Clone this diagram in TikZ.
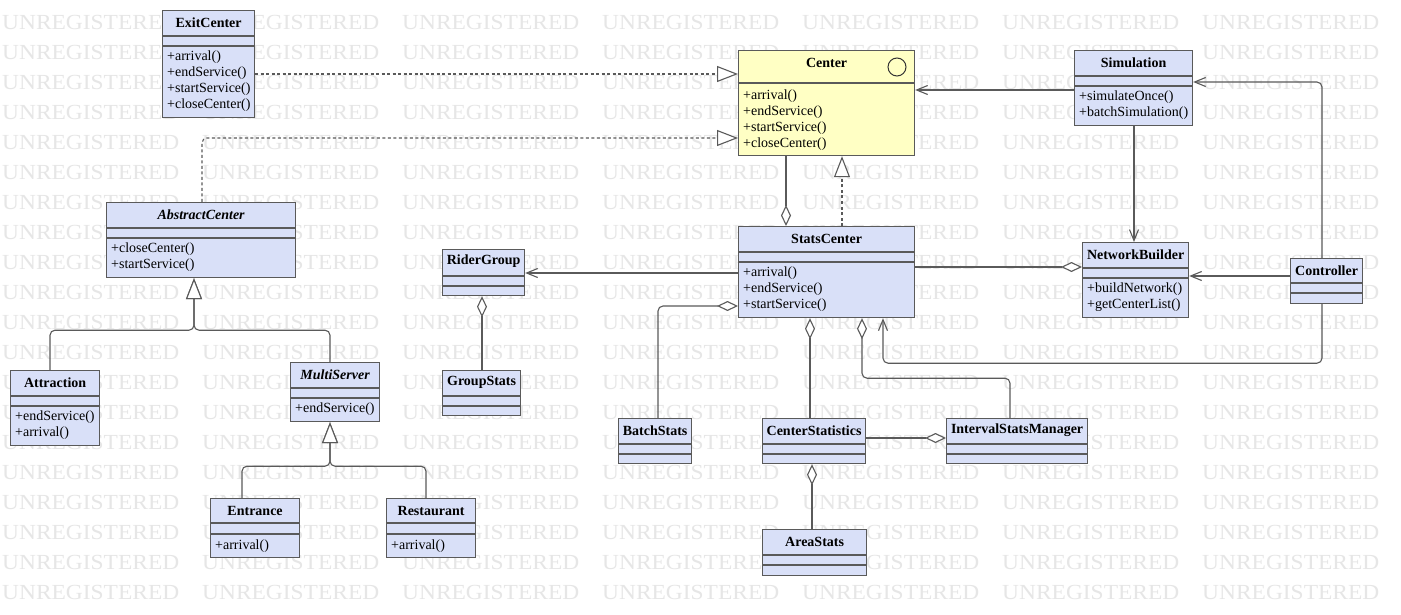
\documentclass[tikz,border=0pt]{standalone}
\usepackage{fontspec}
\setmainfont{Liberation Serif}
\usetikzlibrary{arrows.meta,calc}
\definecolor{boxfill}{RGB}{217,224,248}
\definecolor{ifill}{RGB}{255,255,196}
\definecolor{edge}{RGB}{90,90,90}
\definecolor{wm}{RGB}{230,230,230}
\tikzset{
 cls/.style={draw=edge, line width=1.2pt, fill=boxfill, inner sep=0pt, anchor=north west},
 ttl/.style={font=\fontsize{14}{16}\selectfont\bfseries, inner sep=0pt},
 mth/.style={font=\fontsize{14}{16}\selectfont, inner sep=0pt, anchor=west, text height=9.5pt, text depth=3.5pt},
 sepl/.style={draw=edge, line width=1.2pt},
 conn/.style={draw=edge, line width=1.1pt, rounded corners=5pt},
 dep/.style={conn, dash pattern=on 3pt off 2.5pt},
 nav/.style={-{Straight Barb[length=11pt,width=9pt]}},
 gen/.style={-{Triangle[length=21pt,width=16pt,fill=white]}},
 agg/.style={{Diamond[length=21pt,width=10pt,fill=white]}-},
 wmk/.style={text=wm, font=\fontsize{21.5}{22}\selectfont, inner sep=0pt, anchor=base west},
}
\newcommand{\ucls}[7][]{%
 \node[cls,#1,minimum width=#5pt,minimum height=#6pt] (#2) at (#3,#4) {};
 \node[ttl] (#2-t) at ($(#2.north)+(0,12.5)$) {#7};}
\newcommand{\usep}[2]{\draw[sepl] ($(#1.north west)+(0,#2)$) -- ($(#1.north east)+(0,#2)$);}
\newcommand{\umeth}[3]{%
 \foreach \m [count=\i from 0] in {#3} {\node[mth] (#1-m\i) at ($(#1.north west)+(5,#2+16*\i)$) {\m};}}
\begin{document}
\begin{tikzpicture}[x=1pt,y=-1pt]
\useasboundingbox[fill=white] (0,0) rectangle (1401,615);
% watermark
\foreach \r in {0,...,19} {\foreach \c in {0,...,6} {
  \node[wmk] (wm-\r-\c) at (2+200*\c, 29.5+30*\r) {\scalebox{1.09}[1]{UNREGISTERED}};}}
% classes
\ucls{exit}{162}{10}{92}{107}{ExitCenter}
\usep{exit}{26}\usep{exit}{36}
\umeth{exit}{48}{+arrival(),+endService(),+startService(),+closeCenter()}

\ucls[fill=ifill]{center}{738}{50}{176}{105}{Center}
\usep{center}{33}
\node[draw=black!80, line width=1pt, circle, minimum size=18pt, inner sep=0pt] (center-c) at (897,67) {};
\umeth{center}{46.5}{+arrival(),+endService(),+startService(),+closeCenter()}

\ucls{sim}{1074}{50}{118}{75}{Simulation}
\usep{sim}{26}\usep{sim}{36}
\umeth{sim}{47.5}{+simulateOnce(),+batchSimulation()}

\ucls{abs}{106}{202}{189}{75}{\itshape AbstractCenter}
\usep{abs}{26}\usep{abs}{36}
\umeth{abs}{47.5}{+closeCenter(),+startService()}

\ucls{stats}{738}{226}{176}{91}{StatsCenter}
\usep{stats}{26}\usep{stats}{36}
\umeth{stats}{47.5}{+arrival(),+endService(),+startService()}

\ucls{nb}{1082}{242}{106}{75}{NetworkBuilder}
\usep{nb}{26}\usep{nb}{36}
\umeth{nb}{47.5}{+buildNetwork(),+getCenterList()}

\ucls{ctrl}{1290}{258}{72}{45}{Controller}
\usep{ctrl}{25}\usep{ctrl}{35}

\ucls{rg}{442}{249}{82}{46}{RiderGroup}
\usep{rg}{27}\usep{rg}{37}

\ucls{gs}{442}{370}{78}{45}{GroupStats}
\usep{gs}{26}\usep{gs}{36}

\ucls{attr}{10}{370}{89}{75}{Attraction}
\usep{attr}{26}\usep{attr}{36}
\umeth{attr}{47.5}{+endService(),+arrival()}

\ucls{ms}{290}{362}{89}{59}{\itshape MultiServer}
\usep{ms}{26}\usep{ms}{36}
\umeth{ms}{47.5}{+endService()}

\ucls{ent}{210}{498}{89}{59}{Entrance}
\usep{ent}{25}\usep{ent}{36}
\umeth{ent}{48}{+arrival()}

\ucls{rest}{386}{498}{89}{59}{Restaurant}
\usep{rest}{25}\usep{rest}{36}
\umeth{rest}{48}{+arrival()}

\ucls{bs}{618}{418}{73}{45}{BatchStats}
\usep{bs}{26}\usep{bs}{36}

\ucls{cs}{762}{418}{103}{45}{CenterStatistics}
\usep{cs}{26}\usep{cs}{36}

\ucls{ism}{946}{418}{141}{45}{IntervalStatsManager}
\usep{ism}{26}\usep{ism}{36}

\ucls{as}{762}{529}{104}{46}{AreaStats}
\usep{as}{26}\usep{as}{36}

% connectors
\draw[dep,gen] ($(exit.north east)+(0,64)$) -- ($(center.north west)+(0,24)$);
\draw[dep,gen] ($(abs.north west)+(96,0)$) |- ($(center.north west)+(0,88)$);
\draw[dep,gen] ($(stats.north west)+(104,0)$) -- ($(center.south west)+(104,0)$);
\draw[conn,agg] ($(stats.north west)+(48,0)$) -- ($(center.south west)+(48,0)$);
\draw[conn,nav] ($(sim.north west)+(0,40)$) -- ($(center.north east)+(0,40)$);
\draw[conn,nav] ($(sim.south west)+(60,0)$) -- ($(nb.north west)+(52,0)$);
\draw[conn,agg] ($(nb.north west)+(0,25)$) -- ($(stats.north east)+(0,41)$);
\draw[conn,nav] ($(ctrl.north west)+(0,18)$) -- ($(nb.north east)+(0,34)$);
\draw[conn,nav] ($(ctrl.north west)+(32,0)$) |- ($(sim.north east)+(0,32)$);
\draw[conn,nav] ($(ctrl.south west)+(32,0)$) -- ++(0,59) -| ($(stats.south west)+(145,0)$);
\draw[conn,nav] ($(stats.north west)+(0,47)$) -- ($(rg.north east)+(0,24)$);
\draw[conn,agg] ($(rg.south west)+(40,0)$) -- ($(gs.north west)+(40,0)$);
\draw[conn,agg] ($(stats.north west)+(0,80)$) -| ($(bs.north west)+(40,0)$);
\draw[conn,agg] ($(stats.south west)+(72,0)$) -- ($(cs.north west)+(48,0)$);
\draw[conn,agg] ($(stats.south west)+(124,0)$) -- ++(0,60) -| ($(ism.north west)+(64,0)$);
\draw[conn,agg] ($(ism.north west)+(0,20)$) -- ($(cs.north east)+(0,20)$);
\draw[conn,agg] ($(cs.south west)+(50,0)$) -- ($(as.north west)+(50,0)$);
% generalizations
\coordinate (j1) at ($(abs.south west)+(88,52)$);
\draw[conn,gen] ($(attr.north west)+(40,0)$) |- (j1) -- ($(abs.south west)+(88,0)$);
\draw[conn,gen] ($(ms.north west)+(40,0)$) |- (j1) -- ($(abs.south west)+(88,0)$);
\coordinate (j2) at ($(ms.south west)+(40,44)$);
\draw[conn,gen] ($(ent.north west)+(32,0)$) |- (j2) -- ($(ms.south west)+(40,0)$);
\draw[conn,gen] ($(rest.north west)+(40,0)$) |- (j2) -- ($(ms.south west)+(40,0)$);
\end{tikzpicture}
\end{document}
